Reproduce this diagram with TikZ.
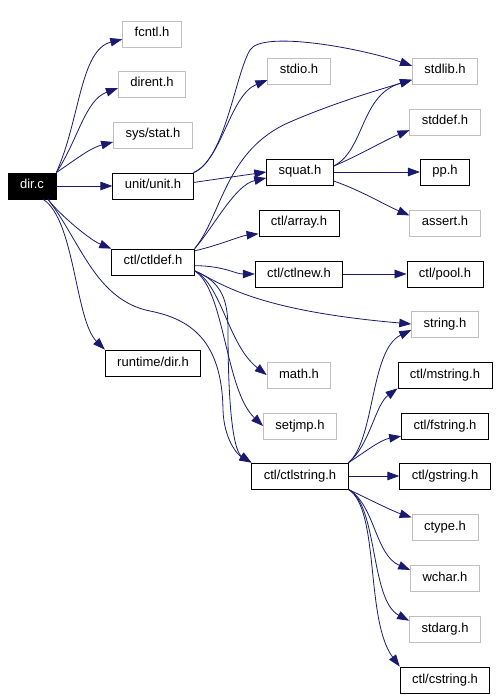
\documentclass[tikz,border=0pt]{standalone}
\usepackage{fontspec}
\setmainfont{Liberation Sans}
\usetikzlibrary{arrows.meta}
\definecolor{ig-navy}{RGB}{25,25,112}
\definecolor{ig-gray}{RGB}{191,191,191}
\tikzset{
  ig@file/.style={
    draw=black, fill=white, line width=0.8pt,
    minimum height=26pt, inner xsep=12pt, inner ysep=0pt,
    font=\fontsize{13}{15}\selectfont\strut
  },
  ig@sys/.style={ig@file, draw=ig-gray},
  ig@root/.style={ig@file, fill=black, text=white},
  ig@arr/.style={-{Triangle[length=12pt,width=8.5pt]}, line width=0.8pt, ig-navy},
}
\begin{document}
\begin{tikzpicture}[x=1pt, y=-1pt]
  \useasboundingbox (0,0) rectangle (500,700);
  % left column
  \node[ig@root] (dirc)    at (32,186)  {dir.c};
  \node[ig@sys]  (fcntl)   at (152,34)  {fcntl.h};
  \node[ig@sys]  (dirent)  at (152,84)  {dirent.h};
  \node[ig@sys]  (sysstat) at (153,135) {sys/stat.h};
  \node[ig@file] (unit)    at (153,186) {unit/unit.h};
  \node[ig@file] (ctldef)  at (153,262) {ctl/ctldef.h};
  \node[ig@file] (rtdir)   at (153,363) {runtime/dir.h};
  % middle column
  \node[ig@sys]  (stdio)     at (299,71)  {stdio.h};
  \node[ig@file] (squat)     at (300,172) {squat.h};
  \node[ig@file] (array)     at (299,223) {ctl/array.h};
  \node[ig@file] (ctlnew)    at (299,274) {ctl/ctlnew.h};
  \node[ig@sys]  (math)      at (299,375) {math.h};
  \node[ig@sys]  (setjmp)    at (300,426) {setjmp.h};
  \node[ig@file] (ctlstring) at (300,476) {ctl/ctlstring.h};
  % right column
  \node[ig@sys]  (stdlib)  at (445,71)  {stdlib.h};
  \node[ig@sys]  (stddef)  at (445,122) {stddef.h};
  \node[ig@file] (pp)      at (445,172) {pp.h};
  \node[ig@sys]  (assert)  at (445,223) {assert.h};
  \node[ig@file] (pool)    at (445,274) {ctl/pool.h};
  \node[ig@sys]  (string)  at (445,324) {string.h};
  \node[ig@file] (mstring) at (445,375) {ctl/mstring.h};
  \node[ig@file] (fstring) at (445,426) {ctl/fstring.h};
  \node[ig@file] (gstring) at (445,476) {ctl/gstring.h};
  \node[ig@sys]  (ctype)   at (445,527) {ctype.h};
  \node[ig@sys]  (wchar)   at (445,578) {wchar.h};
  \node[ig@sys]  (stdarg)  at (445,629) {stdarg.h};
  \node[ig@file] (cstring) at (445,680) {ctl/cstring.h};
  % dir.c
  \draw[ig@arr] (dirc.north east) .. controls (80,120) and (80,50) .. (fcntl.190);
  \draw[ig@arr] (dirc.north east) .. controls (78,140) and (85,100) .. (dirent.187);
  \draw[ig@arr] (dirc.north east) .. controls (75,160) and (90,148) .. (sysstat.190);
  \draw[ig@arr] (dirc) -- (unit);
  \draw[ig@arr] (dirc.-40) .. controls (60,215) and (90,240) .. (ctldef.north west);
  \draw[ig@arr] (dirc.-50) .. controls (75,220) and (75,320) .. (rtdir.north west);
  \draw[ig@arr] (dirc.-40) .. controls (80,240) and (95,300) .. (150,311)
    .. controls (190,319) and (222,340) .. (223,410)
    .. controls (224,440) and (238,455) .. (ctlstring.north west);
  % unit/unit.h
  \draw[ig@arr] (unit.north east) .. controls (222,160) and (230,95) .. (stdio.196);
  \draw[ig@arr] (unit.north east) .. controls (225,160) and (235,75) .. (250,50)
    .. controls (262,30) and (360,48) .. (stdlib.171);
  \draw[ig@arr] (unit.5) -- (squat.west);
  % ctl/ctldef.h
  \draw[ig@arr] (ctldef.north east) .. controls (222,215) and (225,150) .. (290,122)
    .. controls (336,102) and (385,88) .. (stdlib.195);
  \draw[ig@arr] (ctldef.north east) .. controls (215,225) and (235,185) .. (squat.190);
  \draw[ig@arr] (ctldef.15) .. controls (220,245) and (240,236) .. (array.195);
  \draw[ig@arr] (ctldef.-5) .. controls (225,266) and (235,274) .. (ctlnew.west);
  \draw[ig@arr] (ctldef.-12) .. controls (220,282) and (250,310) .. (string.west);
  \draw[ig@arr] (ctldef.-12) .. controls (222,285) and (228,345) .. (math.west);
  \draw[ig@arr] (ctldef.-12) .. controls (225,290) and (225,390) .. (setjmp.west);
  \draw[ig@arr] (ctldef.-12) .. controls (222,282) and (228,300) .. (228,330)
    .. controls (228,420) and (235,452) .. (ctlstring.north west);
  % squat.h
  \draw[ig@arr] (squat.10) .. controls (365,150) and (360,95) .. (stdlib.195);
  \draw[ig@arr] (squat.10) .. controls (360,155) and (385,140) .. (stddef.193);
  \draw[ig@arr] (squat) -- (pp);
  \draw[ig@arr] (squat.-15) .. controls (360,190) and (385,205) .. (assert.168);
  % ctl/ctlnew.h
  \draw[ig@arr] (ctlnew) -- (pool);
  % ctl/ctlstring.h
  \draw[ig@arr] (ctlstring.north east) .. controls (375,440) and (370,350) .. (string.190);
  \draw[ig@arr] (ctlstring.north east) .. controls (370,445) and (375,405) .. (mstring.south west);
  \draw[ig@arr] (ctlstring.north east) .. controls (365,452) and (380,440) .. (fstring.193);
  \draw[ig@arr] (ctlstring) -- (gstring);
  \draw[ig@arr] (ctlstring.south east) .. controls (370,500) and (395,512) .. (ctype.164);
  \draw[ig@arr] (ctlstring.south east) .. controls (375,505) and (375,555) .. (wchar.167);
  \draw[ig@arr] (ctlstring.south east) .. controls (378,505) and (370,600) .. (stdarg.167);
  \draw[ig@arr] (ctlstring.south east) .. controls (380,510) and (365,620) .. (cstring.north west);
\end{tikzpicture}
\end{document}
